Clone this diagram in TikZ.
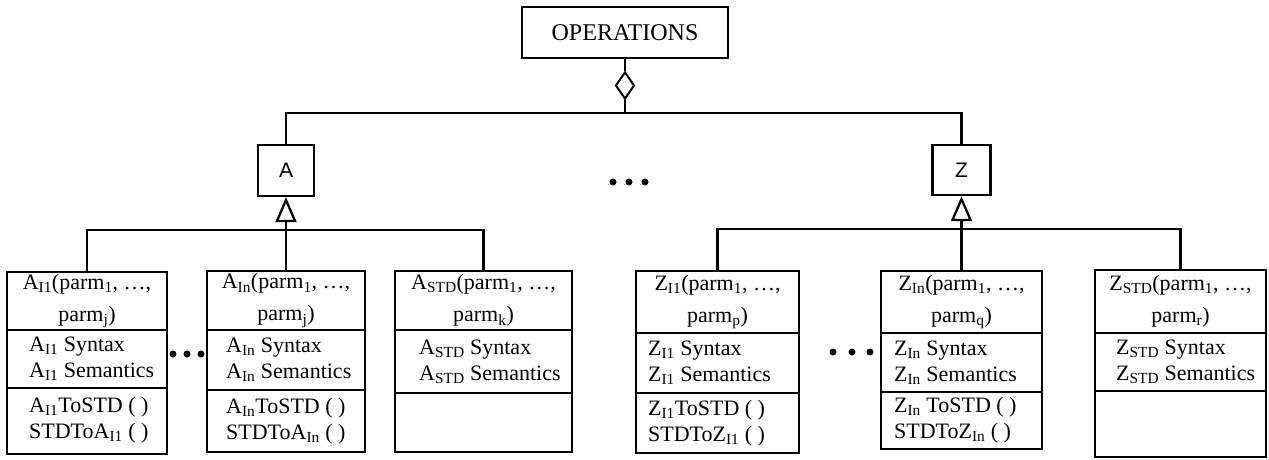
\documentclass[tikz,border=0pt]{standalone}
\usepackage{fontspec}
\setmainfont{Liberation Serif}
\setsansfont{Liberation Sans}
\usetikzlibrary{shapes.geometric,arrows.meta}
\begin{document}
\begin{tikzpicture}[x=1pt,y=-1pt, line width=2.3pt,
  box/.style={draw, rectangle, inner sep=0pt},
  txt/.style={font=\fontsize{22}{26}\selectfont, inner sep=0pt, align=left, anchor=west},
  hdr/.style={font=\fontsize{22}{32}\selectfont, inner sep=0pt, align=center},
  cls/.style={draw, rectangle, inner sep=0pt, font=\sffamily\fontsize{21}{24}\selectfont},
  dotn/.style={circle, fill, inner sep=0pt, minimum size=7pt, draw=none},
  gen/.style={-{Triangle[open, length=25pt, width=21pt]}}]
\useasboundingbox (0,0) rectangle (1269,459);

% top
\node[box, minimum width=206pt, minimum height=51pt, font=\fontsize{24}{28}\selectfont] (ops) at (625,32.5) {OPERATIONS};
\node[draw, diamond, fill=white, inner sep=0pt, minimum width=19pt, minimum height=27pt, line width=2pt] (agg) at (625,85.5) {};
\node[cls, minimum width=56pt, minimum height=51pt] (A) at (286,170.5) {A};
\node[cls, minimum width=58pt, minimum height=50pt] (Z) at (961.5,170) {Z};
\coordinate (j0) at (625,113);
\draw (ops.south) -- (agg.north);
\draw (agg.south) -- (j0);
\draw (A.north) |- (j0) -| (Z.north);

% middle dots
\node[dotn] (m1) at (613,182) {};
\node[dotn] (m2) at (629,182) {};
\node[dotn] (m3) at (645,182) {};

% A subclasses
\node[box, minimum width=160pt, minimum height=182pt] (ai1) at (87,363) {};
\node[box, minimum width=158pt, minimum height=181pt] (ain) at (286,361.5) {};
\node[box, minimum width=177pt, minimum height=181pt] (astd) at (483.5,361.5) {};
\coordinate (barA) at (286,230);
\draw (ai1.north) |- (barA) -| (astd.north);
\draw (ain.north) -- (barA);
\draw[gen] (barA) -- (A.south);

\draw (7,330) -- (167,330); \draw (7,388) -- (167,388);
\draw (207,330) -- (365,330); \draw (207,390) -- (365,390);
\draw (395,330) -- (572,330); \draw (395,393) -- (572,393);

\node[hdr] (ai1h) at (87,301) {A\textsubscript{I1}(parm\textsubscript{1}, \ldots,\\parm\textsubscript{j})};
\node[txt] (ai1s) at (28,359) {A\textsubscript{I1} Syntax\\A\textsubscript{I1} Semantics};
\node[txt] (ai1o) at (28,420) {A\textsubscript{I1}ToSTD ( )\\STDToA\textsubscript{I1} ( )};

\node[hdr] (ainh) at (286,300.5) {A\textsubscript{In}(parm\textsubscript{1}, \ldots,\\parm\textsubscript{j})};
\node[txt] (ains) at (225,360) {A\textsubscript{In} Syntax\\A\textsubscript{In} Semantics};
\node[txt] (aino) at (225,421) {A\textsubscript{In}ToSTD ( )\\STDToA\textsubscript{In} ( )};

\node[hdr] (astdh) at (483.5,300.5) {A\textsubscript{STD}(parm\textsubscript{1}, \ldots,\\parm\textsubscript{k})};
\node[txt] (astds) at (418,361.5) {A\textsubscript{STD} Syntax\\A\textsubscript{STD} Semantics};

\node[dotn] (l1) at (173,354) {};
\node[dotn] (l2) at (187,354) {};
\node[dotn] (l3) at (201,354) {};

% Z subclasses
\node[box, minimum width=163pt, minimum height=182pt] (zi1) at (717.5,362) {};
\node[box, minimum width=161pt, minimum height=178pt] (zin) at (961.5,360) {};
\node[box, minimum width=171pt, minimum height=187pt] (zstd) at (1180.5,363.5) {};
\coordinate (barZ) at (961.5,229);
\draw (zi1.north) |- (barZ) -| (zstd.north);
\draw (zin.north) -- (barZ);
\draw[gen] (barZ) -- (Z.south);

\draw (636,333) -- (799,333); \draw (636,393) -- (799,393);
\draw (881,333) -- (1042,333); \draw (881,392) -- (1042,392);
\draw (1095,333) -- (1266,333); \draw (1095,391) -- (1266,391);

\node[hdr] (zi1h) at (717.5,302) {Z\textsubscript{I1}(parm\textsubscript{1}, \ldots,\\parm\textsubscript{p})};
\node[txt] (zi1s) at (647,363) {Z\textsubscript{I1} Syntax\\Z\textsubscript{I1} Semantics};
\node[txt] (zi1o) at (647,423) {Z\textsubscript{I1}ToSTD ( )\\STDToZ\textsubscript{I1} ( )};

\node[hdr] (zinh) at (961.5,302) {Z\textsubscript{In}(parm\textsubscript{1}, \ldots,\\parm\textsubscript{q})};
\node[txt] (zins) at (893,362.5) {Z\textsubscript{In} Syntax\\Z\textsubscript{In} Semantics};
\node[txt] (zino) at (893,420.5) {Z\textsubscript{In} ToSTD ( )\\STDToZ\textsubscript{In} ( )};

\node[hdr] (zstdh) at (1180.5,301.5) {Z\textsubscript{STD}(parm\textsubscript{1}, \ldots,\\parm\textsubscript{r})};
\node[txt] (zstds) at (1115,362) {Z\textsubscript{STD} Syntax\\Z\textsubscript{STD} Semantics};

\node[dotn] (r1) at (833,352) {};
\node[dotn] (r2) at (852,352) {};
\node[dotn] (r3) at (870,352) {};
\end{tikzpicture}
\end{document}
